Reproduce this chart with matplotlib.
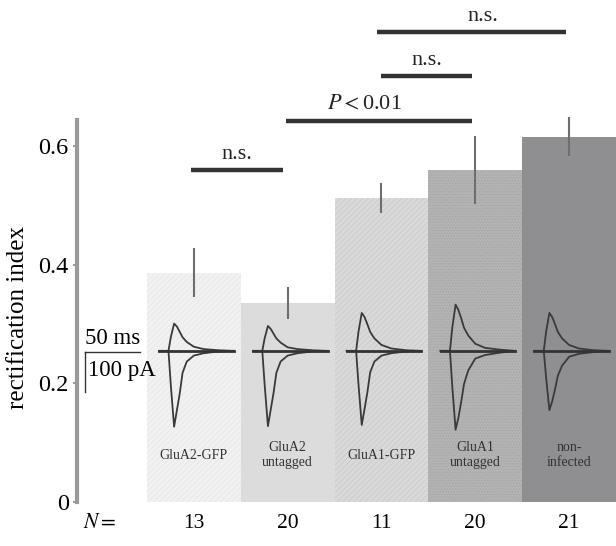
"""Rectification index per construct, with example traces inside the bars."""

import matplotlib

matplotlib.use("Agg")
import matplotlib.pyplot as plt

plt.rcParams["font.family"] = ["Liberation Serif", "DejaVu Serif"]
plt.rcParams["mathtext.fontset"] = "stix"
plt.rcParams["hatch.linewidth"] = 0.4

GROUPS = ["GluA2-GFP", "GluA2\nuntagged", "GluA1-GFP", "GluA1\nuntagged", "non-\ninfected"]
RI = [0.387, 0.336, 0.513, 0.560, 0.616]
SEM = [0.041, 0.027, 0.025, 0.058, 0.033]
N_CELLS = [13, 20, 11, 20, 21]
BAR_COLORS = ["#f1f1f1", "#dcdcdc", "#d9d9d9", "#b3b3b3", "#8f8f91"]
HATCHES = ["//////", None, "//////", "......", None]
HATCH_COLORS = ["#e2e2e2", "#dcdcdc", "#c4c4c4", "#a2a2a2", "#8f8f91"]

# significance brackets: (x start, x end, height, label)
SIG = [(-0.03, 0.95, 0.560, "n.s."),
       (0.98, 2.97, 0.643, r"$P<$0.01"),
       (1.99, 2.96, 0.719, "n.s."),
       (1.95, 3.97, 0.793, "n.s.")]
SIG_TEXT_X = [0.46, 1.82, 2.48, 3.08]

# example currents (offset from bar centre, in RI units around a common baseline)
TRACE_T = [-0.37, -0.27, -0.245, -0.21, -0.18, -0.15, -0.12, -0.075, 0.0, 0.105, 0.265, 0.425]
TRACE_UP = [
    [0, 0, .023, .046, .041, .032, .023, .015, .007, .003, .001, 0],
    [0, 0, .021, .042, .037, .029, .021, .014, .006, .003, .001, 0],
    [0, 0, .032, .064, .057, .045, .032, .021, .010, .004, .001, 0],
    [0, 0, .039, .078, .069, .055, .039, .026, .012, .005, .002, 0],
    [0, 0, .032, .064, .057, .045, .032, .021, .010, .004, .001, 0],
]
TRACE_DOWN = [
    [0, 0, -.058, -.128, -.100, -.072, -.037, -.018, -.008, -.004, -.001, 0],
    [0, 0, -.057, -.127, -.099, -.071, -.037, -.018, -.008, -.004, -.001, 0],
    [0, 0, -.056, -.125, -.098, -.070, -.036, -.018, -.008, -.004, -.001, 0],
    [0, 0, -.060, -.133, -.113, -.086, -.056, -.033, -.013, -.007, -.003, 0],
    [0, 0, -.045, -.100, -.085, -.065, -.042, -.025, -.010, -.005, -.002, 0],
]
BASELINE = 0.255

fig = plt.figure(figsize=(6.16, 5.46), dpi=100)
ax = fig.add_axes([0.125, 0.0806, 0.875, 0.9194])
xs = list(range(len(GROUPS)))

for i in xs:
    ax.bar(i, RI[i], width=1.0, color=BAR_COLORS[i], hatch=HATCHES[i],
           edgecolor=HATCH_COLORS[i], linewidth=0, zorder=1)
    ax.errorbar(i, RI[i], yerr=SEM[i], fmt="none", ecolor="#6e6e6e",
                elinewidth=1.5, capsize=0, zorder=2)
    # traces
    tx = [i + t for t in TRACE_T]
    for vals in (TRACE_UP[i], TRACE_DOWN[i]):
        ax.plot(tx, [BASELINE + v for v in vals], color="#3a3a3a", lw=1.3,
                solid_joinstyle="round", zorder=3)
    ax.plot([tx[0], tx[-1]], [BASELINE, BASELINE], color="#333333", lw=2.0, zorder=3)
    ax.text(i, 0.079, GROUPS[i], ha="center", va="center", fontsize=10,
            color="#333333", linespacing=1.15)

for (x0, x1, h, lab), tx in zip(SIG, SIG_TEXT_X):
    ax.plot([x0, x1], [h, h], color="#333333", lw=3.2, solid_capstyle="butt")
    ax.text(tx, h + 0.010, lab, ha="center", va="bottom", fontsize=16, color="#222222")

# scale bar: 50 ms / 100 pA
ax.plot([-1.16, -0.575], [0.253, 0.253], color="#333333", lw=1.0)
ax.plot([-1.16, -1.16], [0.253, 0.186], color="#333333", lw=1.0)
ax.text(-0.865, 0.258, "50 ms", ha="center", va="bottom", fontsize=16.5)
ax.text(-1.13, 0.222, "100 pA", ha="left", va="center", fontsize=16.5)

ax.set_xlim(-1.245, 4.5)
ax.set_ylim(0, 0.847)
for s in ("top", "right", "bottom"):
    ax.spines[s].set_visible(False)
ax.spines["left"].set_color("#9a9a9a")
ax.spines["left"].set_linewidth(3.0)
ax.spines["left"].set_bounds(0, 0.645)
ax.set_yticks([0, 0.2, 0.4, 0.6])
ax.set_yticklabels(["0", "0.2", "0.4", "0.6"])
ax.tick_params(axis="y", length=3, width=1.5, color="#9a9a9a", labelsize=17.5, pad=3)
ax.set_xticks([-1.0] + xs)
ax.set_xticklabels([r"$N=$"] + [str(n) for n in N_CELLS])
ax.tick_params(axis="x", length=0, labelsize=15.5, pad=9)
ax.set_ylabel("rectification index", fontsize=18, labelpad=4)
ax.yaxis.set_label_coords(-0.089, 0.368)

fig.savefig("out.png", dpi=100)
